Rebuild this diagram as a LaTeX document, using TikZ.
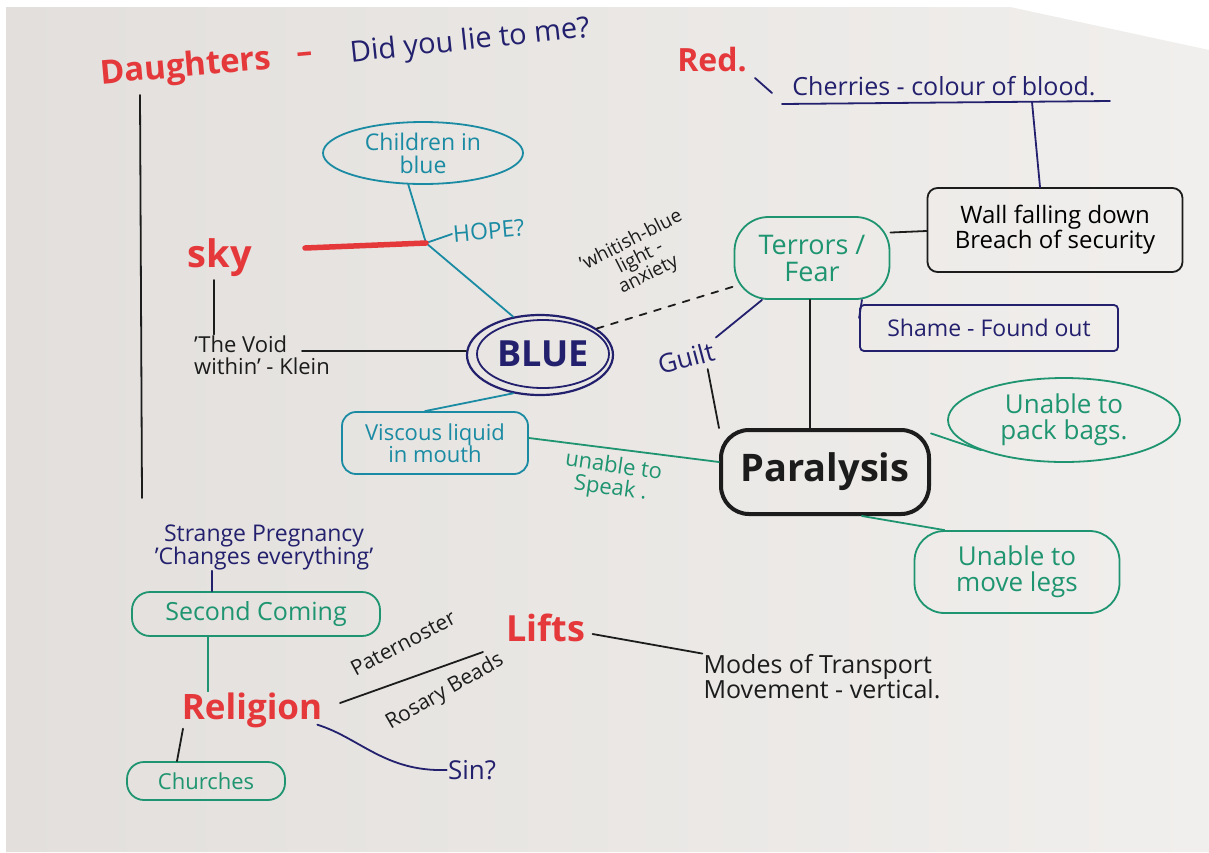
\documentclass[tikz,border=0pt]{standalone}
\usepackage{fontspec}
\setmainfont{Open Sans}
\usetikzlibrary{shapes.geometric}
\definecolor{inkred}{HTML}{E5383B}
\definecolor{inknavy}{HTML}{23206E}
\definecolor{inkteal}{HTML}{1A8BA3}
\definecolor{inkgreen}{HTML}{1E9570}
\definecolor{inkblack}{HTML}{1C1C1C}
\definecolor{paperL}{HTML}{E2DFDC}
\definecolor{paperR}{HTML}{F1EFED}
\newcommand{\fsz}[1]{\fontsize{#1}{#1}\selectfont}
\tikzset{
  ink/.style={line width=1.8pt, line cap=round, line join=round},
  heading/.style={text=inkred, font=\fsz{32}\bfseries, inner sep=1pt},
  note/.style={align=center, inner sep=1pt},
  bubble/.style={draw, line width=1.8pt, align=center, inner sep=0pt},
}
\begin{document}
\begin{tikzpicture}[x=1pt,y=-1pt]
\useasboundingbox (0,0) rectangle (1209,852);
% sheet of paper
\fill[white] (0,0) rectangle (1209,852);
\shade[left color=paperL, right color=paperR] (6,7) -- (1010,7) -- (1209,50) -- (1209,852) -- (6,852) -- cycle;

% ---------- top left: Daughters ----------
\node[heading, font=\fsz{33}\bfseries, rotate=5] (dau) at (186,68) {Daughters};
\node[heading, rotate=5] (daudash) at (305,58) {–};
\node[note, text=inknavy, font=\fsz{29}, rotate=6] (lie) at (470,42) {Did you lie to me?};
\coordinate (dtop) at (140,95);
\coordinate (dbot) at (142,498);
\draw[ink, inkblack] (dtop) -- (dbot);

% ---------- top right: Red ----------
\node[heading, font=\fsz{32}\bfseries] (red) at (712,60) {Red.};
\node[note, text=inknavy, font=\fsz{25}] (cher) at (944,86) {Cherries - colour of blood.};
\coordinate (rtick1) at (755,78);
\coordinate (rtick2) at (772,93);
\draw[ink, inknavy] (rtick1) -- (rtick2);
\coordinate (ul1) at (782,104);
\coordinate (ul2) at (1110,101);
\coordinate (ulj) at (1032,102);
\draw[ink, inknavy] (ul1) -- (ul2);

\node[bubble, draw=inkblack, rounded corners=10pt, minimum width=255, minimum height=84,
      font=\fsz{24}] (wall) at (1055,230) {Wall falling down\\Breach of security};
\draw[ink, inknavy] (ulj) -- (wall.north -| 1040,0);

% ---------- Terrors / Fear ----------
\node[bubble, draw=inkgreen, text=inkgreen, rounded corners=34pt, minimum width=155,
      minimum height=82, font=\fsz{27}] (terr) at (812,258) {Terrors /\\Fear};
\draw[ink, inkblack] (terr.18) -- (wall.west |- 0,231);
\node[bubble, draw=inknavy, text=inknavy, rounded corners=4pt, minimum width=258,
      minimum height=46, font=\fsz{23}] (shame) at (989,328) {Shame - Found out};
\draw[ink, inknavy] (terr.-40) -- (shame.west |- 0,318);

% ---------- Paralysis ----------
\node[bubble, draw=inkblack, line width=4pt, rounded corners=28pt, minimum width=208,
      minimum height=84, font=\fsz{38}\bfseries, text=inkblack] (para) at (825,472) {Paralysis};
\draw[ink, inkblack] (terr.south) ++(-2,0) coordinate (tp) -- (tp |- para.north);
\node[note, text=inknavy, font=\fsz{26}, rotate=15] (guilt) at (686,358) {Guilt};
\draw[ink, inknavy] (guilt.north east) ++(4,-2) coordinate (g1) -- (terr.220);
\draw[ink, inkblack] (guilt.south east) ++(-10,8) coordinate (g2) -- (para.north west);

\node[bubble, ellipse, draw=inkgreen, text=inkgreen, minimum width=232, minimum height=84,
      font=\fsz{26}] (pack) at (1064,420) {Unable to\\pack bags.};
\draw[ink, inkgreen] (para.20) -- (pack.200);
\node[bubble, draw=inkgreen, text=inkgreen, rounded corners=30pt, minimum width=205,
      minimum height=82, font=\fsz{26}] (legs) at (1017,572) {Unable to\\move legs};
\draw[ink, inkgreen] (para.-50) -- (legs.150);

% ---------- BLUE ----------
\node[ellipse, draw=inknavy, line width=2.2pt, minimum width=146, minimum height=80,
      inner sep=0pt] (blueo) at (540,355) {};
\node[ellipse, draw=inknavy, line width=1.8pt, minimum width=132, minimum height=68,
      inner sep=0pt, text=inknavy, font=\fsz{36}\bfseries] (blue) at (543,354) {BLUE};

\node[bubble, ellipse, draw=inkteal, text=inkteal, minimum width=200, minimum height=62,
      font=\fsz{23}] (child) at (423,153) {Children in\\blue};
\coordinate (hopej) at (426,243);
\draw[ink, inkteal] (child.-115) -- (hopej) -- (blueo.125);
\node[note, text=inkteal, font=\fsz{23}, rotate=5, anchor=west] (hope) at (452,234) {HOPE?};
\draw[ink, inkteal] (hopej) -- (hope.west);

\node[heading, font=\fsz{38}\bfseries] (sky) at (220,258) {sky};
\coordinate (skyline) at (305,248);
\draw[line width=5.5pt, inkred, line cap=round] (skyline) -- (hopej);
\node[note, text=inkblack, font=\fsz{22}, align=left] (void) at (262,355) {'The Void\\within' - Klein};
\draw[ink, inkblack] (214,280) coordinate (s1) -- (s1 |- void.north);
\coordinate (v1) at (302,351);
\draw[ink, inkblack] (v1) -- (blueo.west |- 0,351);

\node[note, text=inkblack, font=\fsz{19}, rotate=27] (whit) at (640,258) {'whitish-blue\\light -\\anxiety};
\draw[ink, inkblack, dashed, dash pattern=on 7pt off 8pt] (blueo.25) -- (terr.200);

\node[bubble, draw=inkteal, text=inkteal, rounded corners=14pt, minimum width=186,
      minimum height=62, font=\fsz{22}] (visc) at (435,443) {Viscous liquid\\in mouth};
\draw[ink, inkteal] (visc.north) ++(-10,0) coordinate (vc) -- (blueo.-125);
\draw[ink, inkgreen] (visc.east |- 0,438) -- (para.west |- 0,462);
\node[note, text=inkgreen, font=\fsz{22}, rotate=-8] (speak) at (612,478) {unable to\\Speak .};

% ---------- bottom left: Religion ----------
\node[note, text=inknavy, font=\fsz{23}] (preg) at (264,547) {Strange Pregnancy\\'Changes everything'};
\node[bubble, draw=inkgreen, text=inkgreen, rounded corners=18pt, minimum width=248,
      minimum height=44, font=\fsz{25}] (second) at (256,614) {Second Coming};
\draw[ink, inknavy] (preg.south -| 212,0) -- (second.north -| 212,0);
\node[heading, font=\fsz{35}\bfseries] (rel) at (252,710) {Religion};
\draw[ink, inkgreen] (second.south -| 208,0) -- (rel.north -| 208,0);
\node[bubble, draw=inkgreen, text=inkgreen, rounded corners=17pt, minimum width=158,
      minimum height=38, font=\fsz{22}] (church) at (206,781) {Churches};
\draw[ink, inkblack] (rel.south -| 183,0) -- (church.north -| 177,0);
\node[note, text=inknavy, font=\fsz{26}] (sin) at (472,770) {Sin?};
\draw[ink, inknavy] (rel.south east) ++(-6,-4) coordinate (r1)
  .. controls (360,738) and (385,772) .. (sin.west);

\node[note, text=inkblack, font=\fsz{21}, rotate=28] (pater) at (403,643) {Paternoster};
\node[note, text=inkblack, font=\fsz{21}, rotate=30] (rosary) at (445,692) {Rosary Beads};
\coordinate (pr1) at (340,703);
\coordinate (pr2) at (483,652);
\draw[ink, inkblack] (pr1) -- (pr2);
\node[heading, font=\fsz{36}\bfseries] (lifts) at (546,628) {Lifts};
\node[note, text=inkblack, font=\fsz{25}, align=left] (modes) at (822,677) {Modes of Transport\\Movement - vertical.};
\draw[ink, inkblack] (lifts.east) ++(6,6) coordinate (l1) -- (modes.north west);
\end{tikzpicture}
\end{document}
